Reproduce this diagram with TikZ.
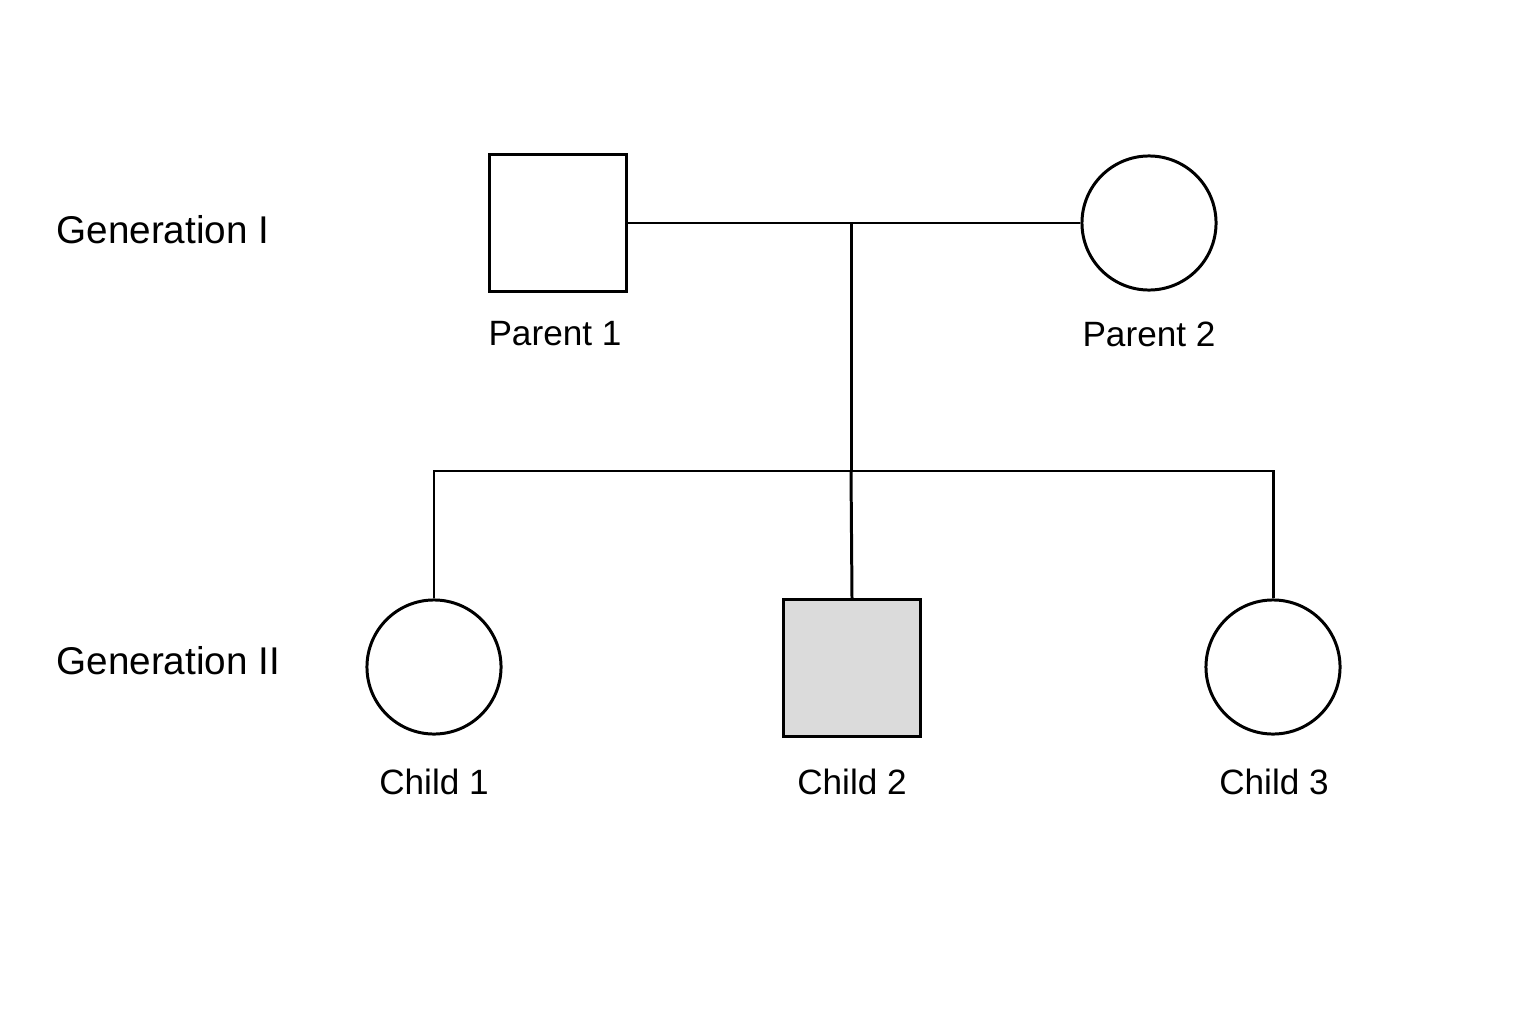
\documentclass[tikz,border=0pt]{standalone}
\usepackage{fontspec}
\setmainfont{Liberation Sans}
\usetikzlibrary{positioning}

\tikzset{
  male/.style={draw, line width=0.85pt, minimum size=1.37cm, inner sep=0},
  female/.style={draw, circle, line width=0.85pt, minimum size=1.34cm, inner sep=0},
  lbl/.style={font=\fontsize{10}{12}\selectfont},
  gen/.style={font=\fontsize{11}{13}\selectfont, anchor=west, inner sep=0}
}

\begin{document}
\begin{tikzpicture}[x=0.01cm, y=-0.01cm, line width=0.85pt]
  \useasboundingbox (0,0) rectangle (1536,1024);
  % generation I
  \node[male] (par1) at (558,223) {};
  \node[female] (par2) at (1149,223) {};
  \node[lbl] at (555,334) {Parent 1};
  \node[lbl] at (1149,334) {Parent 2};
  \node[gen] (gen1) at (55,230) {Generation I};
  % generation II
  \node[female] (ch1) at (434,667) {};
  \node[male, fill=black!14] (ch2) at (852,668) {};
  \node[female] (ch3) at (1273,667) {};
  \node[lbl] at (434,782) {Child 1};
  \node[lbl] at (852,782) {Child 2};
  \node[lbl] at (1274,782) {Child 3};
  \node[gen] (gen2) at (55,661) {Generation II};
  % connectors
  \coordinate (mate) at (851,223);
  \coordinate (sib) at (851,471);
  \draw (par1) -- (par2);
  \draw (mate) -- (sib);
  \draw (ch1.north) |- (sib) -| (ch3.north);
  \draw (sib) -- (ch2.north);
\end{tikzpicture}
\end{document}
